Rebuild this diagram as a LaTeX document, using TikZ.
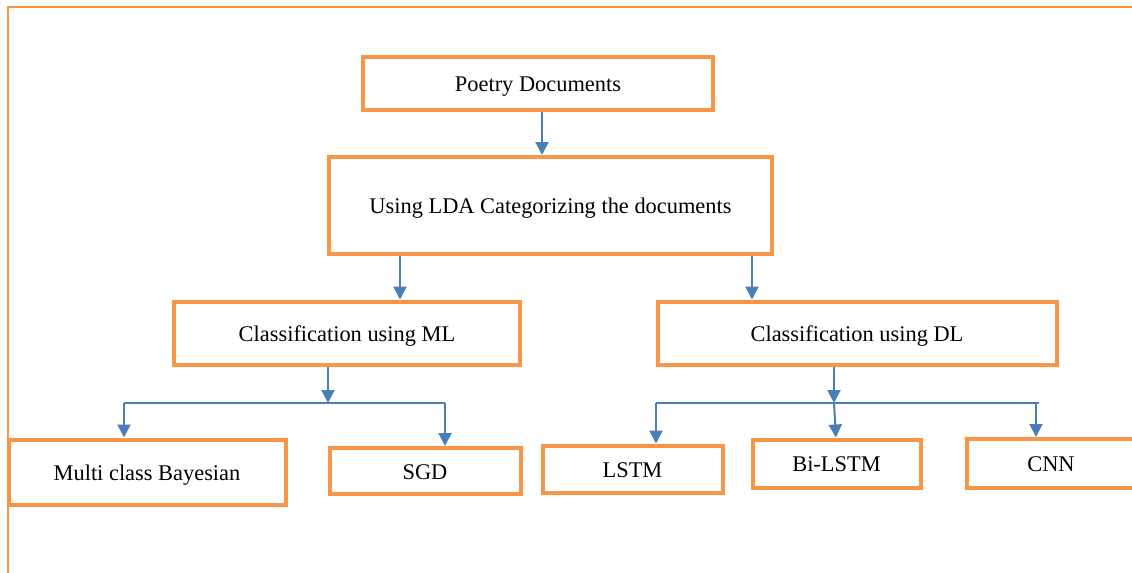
\documentclass[tikz,border=0pt]{standalone}
\usepackage{fontspec}
\setmainfont{Liberation Serif}
\usetikzlibrary{arrows.meta}

\definecolor{boxorange}{HTML}{F79646}
\definecolor{linkblue}{HTML}{4A7EBB}

\tikzset{
  stagebox/.style={draw=boxorange, line width=2pt, fill=white, inner sep=0pt,
    font=\fontsize{11.2}{13}\selectfont, align=center,
    text height=9.5pt, text depth=1.3pt},
  link/.style={draw=linkblue, line width=1pt},
  arr/.style={link, -{Triangle[width=6.5pt,length=6.5pt]}},
  frameline/.style={draw=boxorange, line width=0.9pt}
}

\begin{document}
\begin{tikzpicture}[x=0.5pt, y=-0.5pt]
  \useasboundingbox (0,0) rectangle (1132,573);
  \clip (0,0) rectangle (1132,573);

  % page frame (left and top edges)
  \draw[frameline] (8,590) -- (8,7) -- (1150,7);

  % stages
  \node[stagebox, minimum width=175pt, minimum height=26.5pt] (poetry) at (538,83.5) {Poetry Documents};
  \node[stagebox, minimum width=221.5pt, minimum height=48.5pt] (lda) at (550.5,205.5) {Using LDA Categorizing the documents};
  \node[stagebox, minimum width=173pt, minimum height=31.5pt] (ml) at (347,333) {Classification using ML};
  \node[stagebox, minimum width=199.5pt, minimum height=31.5pt] (dl) at (857,333) {Classification using DL};

  % classifiers
  \node[stagebox, minimum width=138.5pt, minimum height=32.5pt] (multi) at (147,472) {Multi class Bayesian};
  \node[stagebox, minimum width=95.5pt, minimum height=23pt] (sgd) at (425,471) {SGD};
  \node[stagebox, minimum width=90pt, minimum height=23.5pt] (lstm) at (632.5,469) {LSTM};
  \node[stagebox, minimum width=84pt, minimum height=24pt] (bilstm) at (836.5,463.5) {Bi-LSTM};
  \node[stagebox, minimum width=84pt, minimum height=24.5pt] (cnn) at (1051,463.5) {CNN};

  % top-level flow
  \draw[arr] (542,0 |- poetry.south) -- (542,0 |- lda.north);
  \draw[arr] (400,0 |- lda.south) -- (400,0 |- ml.north);
  \draw[arr] (752,0 |- lda.south) -- (752,0 |- dl.north);

  % machine learning branch
  \coordinate (mlj) at (328,403);
  \coordinate (mlL) at (124,403);
  \coordinate (mlR) at (445,403);
  \draw[arr] (mlj |- ml.south) -- (mlj);
  \draw[link] (mlL) -- (mlR);
  \draw[arr] (mlL) -- (mlL |- multi.north);
  \draw[arr] (mlR) -- (mlR |- sgd.north);

  % deep learning branch
  \coordinate (dlj) at (834,403);
  \coordinate (dlL) at (656,403);
  \coordinate (dlR) at (1039,403);
  \coordinate (dlC) at (1036,403);
  \draw[arr] (dlj |- dl.south) -- (dlj);
  \draw[link] (dlL) -- (dlR);
  \draw[arr] (dlL) -- (dlL |- lstm.north);
  \draw[arr] (dlj) -- (836,0 |- bilstm.north);
  \draw[arr] (dlC) -- (dlC |- cnn.north);
\end{tikzpicture}
\end{document}
